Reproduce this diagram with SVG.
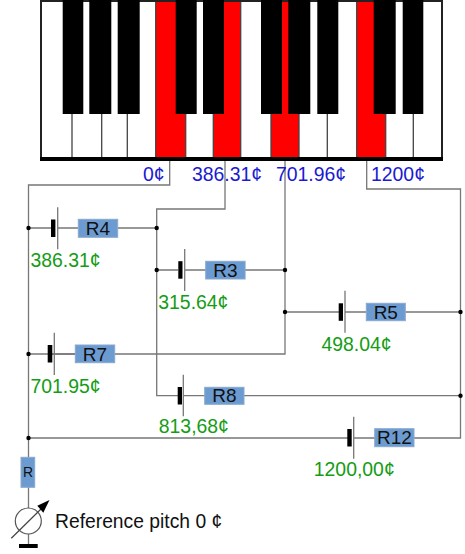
<svg xmlns="http://www.w3.org/2000/svg" width="465" height="554" viewBox="0 0 465 554">
<style>
.wire{fill:none;stroke:#777;stroke-width:1.3}
.div{stroke:#444;stroke-width:1.3}
.blk{fill:#000}
.red{fill:#f00}
.dot{fill:#000}
.bar{fill:#000}
.plate{stroke:#777;stroke-width:1.3}
.res{fill:#6c9bd1;stroke:#8aa8cc;stroke-width:1}
text{font-family:"Liberation Sans",Arial,sans-serif}
.rl{font-size:19px;fill:#111;text-anchor:middle}
.bl{font-size:19.4px;fill:#1a1ad2}
.gr{font-size:19.4px;fill:#159c15}
</style>
<rect width="465" height="554" fill="#fff"/>
<g id="keyboard">
<rect x="41" y="1" width="401" height="157" fill="#fff" stroke="#222" stroke-width="2"/>
<rect class="red" x="155.7" y="2" width="30" height="155"/>
<rect class="red" x="213.3" y="2" width="27.4" height="155"/>
<rect class="red" x="271" y="2" width="28" height="155"/>
<rect class="red" x="356.7" y="2" width="29" height="155"/>
<path class="div" d="M72 114V157M101.7 114V157M127.3 114V157M155.7 2V157M185.7 114V157M213.3 114V157M240.7 2V157M271 114V157M299 114V157M327.3 114V157M356.7 2V157M385.7 114V157M413.3 114V157"/>
<rect class="blk" x="62.7" y="0" width="20.6" height="114"/>
<rect class="blk" x="89.3" y="0" width="22" height="114"/>
<rect class="blk" x="117.7" y="0" width="22" height="114"/>
<rect class="blk" x="175.7" y="0" width="21" height="114"/>
<rect class="blk" x="203" y="0" width="21" height="114"/>
<rect class="blk" x="261" y="0" width="21" height="114"/>
<rect class="blk" x="288.3" y="0" width="22" height="114"/>
<rect class="blk" x="317.3" y="0" width="21" height="114"/>
<rect class="blk" x="373.7" y="0" width="22" height="114"/>
<rect class="blk" x="402.7" y="0" width="20.6" height="114"/>
<rect class="blk" x="40" y="157" width="403" height="4"/>
</g>
<g id="connectors">
<path class="wire" d="M169.7 161V185H28.5V457.5M225 161V209H156.7V395.7H178M285 161V354H28.5M366.7 161V189H460.5V438H414"/>
<path class="wire" d="M28.5 228H51M58 228H78M118 228H156.7M156.7 270H178M185 270H206M245 270H285M285 312H339M345 312H366M405 312H460.5M52 354H75M183 395.7H205M244 395.7H460.5M28.5 438H348M354 438H375M28.5 487V508M28.5 534V546"/>
</g>
<g id="dots">
<circle class="dot" cx="28.5" cy="228" r="2.2"/><circle class="dot" cx="156.7" cy="228" r="2.2"/><circle class="dot" cx="156.7" cy="270" r="2.2"/><circle class="dot" cx="285" cy="270" r="2.2"/><circle class="dot" cx="285" cy="312" r="2.2"/><circle class="dot" cx="460.5" cy="312" r="2.2"/><circle class="dot" cx="28.5" cy="354" r="2.2"/><circle class="dot" cx="460.5" cy="395.7" r="2.2"/><circle class="dot" cx="28.5" cy="438" r="2.2"/>
</g>
<g id="R4-branch"><rect class="bar" x="51" y="219.5" width="4.4" height="17.5"/><line class="plate" x1="57.7" y1="207.3" x2="57.7" y2="249.3"/><rect class="res" x="78.3" y="219.3" width="39.4" height="18"/><text class="rl" x="98" y="235">R4</text><text class="gr" x="30.5" y="266.7">386.31¢</text></g>
<g id="R3-branch"><rect class="bar" x="178.3" y="261.2" width="4.2" height="17.5"/><line class="plate" x1="184.7" y1="249" x2="184.7" y2="291"/><rect class="res" x="205.7" y="261.3" width="39.4" height="17.7"/><text class="rl" x="225.4" y="277">R3</text><text class="gr" x="158.3" y="309">315.64¢</text></g>
<g id="R5-branch"><rect class="bar" x="338.7" y="303.3" width="4.3" height="17.5"/><line class="plate" x1="345" y1="290.7" x2="345" y2="332.7"/><rect class="res" x="366.3" y="303.3" width="39" height="17.4"/><text class="rl" x="385.8" y="318.5">R5</text><text class="gr" x="321.5" y="351">498.04¢</text></g>
<g id="R7-branch"><rect class="bar" x="47.7" y="345" width="4.6" height="17.5"/><line class="plate" x1="54.3" y1="332.7" x2="54.3" y2="375"/><rect class="res" x="75.3" y="345" width="39.4" height="17.7"/><text class="rl" x="95" y="360.5">R7</text><text class="gr" x="30.5" y="393">701.95¢</text></g>
<g id="R8-branch"><rect class="bar" x="177.7" y="387" width="4.3" height="17.5"/><line class="plate" x1="183.3" y1="374.7" x2="183.3" y2="416.3"/><rect class="res" x="204.7" y="387.3" width="39.3" height="17"/><text class="rl" x="224.4" y="402.3">R8</text><text class="gr" x="158.8" y="433">813,68¢</text></g>
<g id="R12-branch"><rect class="bar" x="347.3" y="429" width="4.4" height="17.5"/><line class="plate" x1="353.7" y1="416.7" x2="353.7" y2="458.7"/><rect class="res" x="374.7" y="428.7" width="39.3" height="18"/><text class="rl" x="394.4" y="444.3">R12</text><text class="gr" x="313.8" y="475.7">1200,00¢</text></g>
<g id="R-node"><rect class="res" x="21" y="457.3" width="13.7" height="30"/><text class="rl" x="28" y="477" style="font-size:14px">R</text></g>
<g id="meter">
<circle cx="28.3" cy="521" r="13" fill="none" stroke="#555" stroke-width="1.2"/>
<line x1="11.3" y1="538.3" x2="41" y2="509" stroke="#444" stroke-width="1.2"/>
<polygon points="49.5,500 37.3,505.7 43.3,512.7" fill="#000"/>
<rect x="19" y="544" width="18.7" height="4" fill="#000"/>
<text x="55" y="528" style="font-size:19.3px" fill="#111">Reference pitch 0 ¢</text>
</g>
<g id="labels">
<text class="bl" x="143" y="181">0¢</text>
<text class="bl" x="192" y="181">386.31¢</text>
<text class="bl" x="276" y="181">701.96¢</text>
<text class="bl" x="371" y="181">1200¢</text>
</g>
</svg>
